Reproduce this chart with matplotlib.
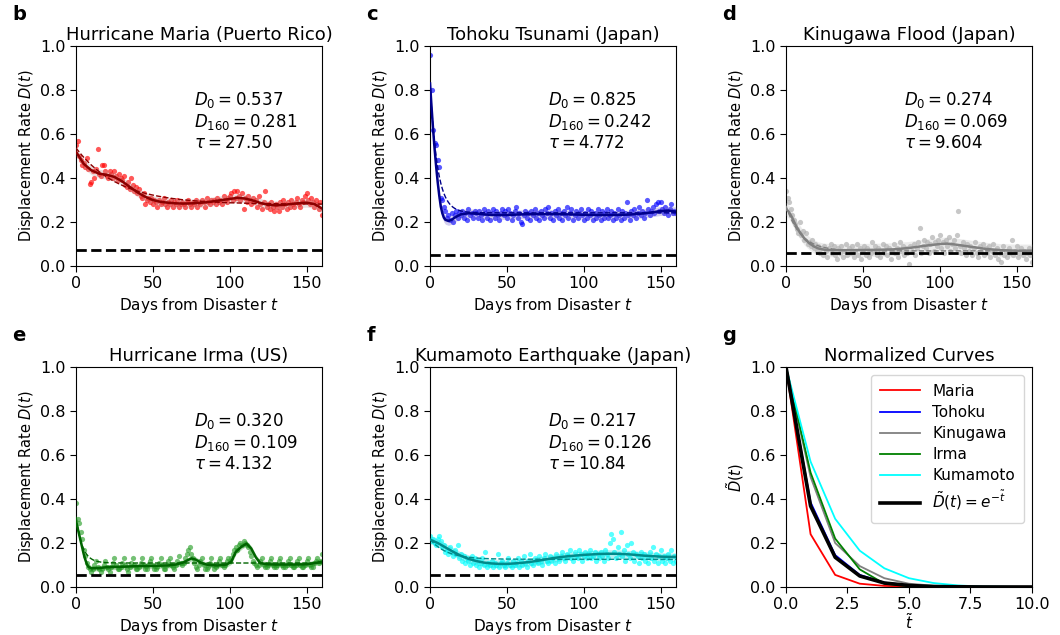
import matplotlib
matplotlib.use("Agg")
import matplotlib.pyplot as plt
import numpy as np

plt.rcParams['font.family'] = ['DejaVu Sans']
plt.rcParams['mathtext.fontset'] = 'dejavusans'

# ---- data ----
days = np.arange(161)

maria_pts = [0.55, 0.57, 0.50, 0.48, 0.46, 0.47, 0.45, 0.49, 0.44, 0.375,
             0.38, 0.43, 0.40, 0.44, 0.53, 0.42, 0.41, 0.46, 0.46, 0.43,
             0.41, 0.40, 0.43, 0.42, 0.40, 0.43, 0.41, 0.39, 0.42, 0.40,
             0.39, 0.41, 0.37, 0.36, 0.38, 0.35, 0.40, 0.37, 0.34, 0.36,
             0.33, 0.35, 0.32, 0.31, 0.33, 0.28, 0.30, 0.31, 0.29, 0.31,
             0.28, 0.30, 0.29, 0.27, 0.30, 0.28, 0.29, 0.31, 0.28, 0.27,
             0.29, 0.28, 0.30, 0.27, 0.29, 0.28, 0.30, 0.27, 0.28, 0.29,
             0.28, 0.27, 0.29, 0.30, 0.28, 0.27, 0.29, 0.28, 0.30, 0.27,
             0.29, 0.28, 0.30, 0.29, 0.27, 0.31, 0.29, 0.28, 0.30, 0.29,
             0.30, 0.28, 0.31, 0.29, 0.30, 0.28, 0.32, 0.30, 0.29, 0.31,
             0.32, 0.33, 0.30, 0.34, 0.31, 0.34, 0.32, 0.30, 0.33, 0.26,
             0.31, 0.29, 0.32, 0.30, 0.28, 0.31, 0.29, 0.30, 0.27, 0.32,
             0.28, 0.26, 0.29, 0.34, 0.27, 0.28, 0.26, 0.29, 0.27, 0.25,
             0.28, 0.27, 0.25, 0.29, 0.27, 0.30, 0.28, 0.26, 0.29, 0.27,
             0.30, 0.28, 0.27, 0.29, 0.31, 0.28, 0.27, 0.30, 0.29, 0.32,
             0.33, 0.30, 0.28, 0.31, 0.29, 0.27, 0.30, 0.28, 0.26, 0.29,
             0.23]

tohoku_pts = [0.96, 0.80, 0.62, 0.56, 0.55, 0.48, 0.45, 0.31, 0.30, 0.27,
              0.25, 0.22, 0.23, 0.21, 0.24, 0.20, 0.23, 0.25, 0.22, 0.24,
              0.23, 0.25, 0.22, 0.24, 0.21, 0.26, 0.23, 0.24, 0.22, 0.25,
              0.24, 0.22, 0.25, 0.23, 0.21, 0.26, 0.24, 0.22, 0.25, 0.21,
              0.24, 0.26, 0.22, 0.25, 0.23, 0.21, 0.24, 0.26, 0.23, 0.25,
              0.22, 0.26, 0.24, 0.21, 0.23, 0.25, 0.27, 0.22, 0.24, 0.20,
              0.19, 0.23, 0.25, 0.22, 0.24, 0.21, 0.25, 0.23, 0.26, 0.22,
              0.24, 0.21, 0.25, 0.23, 0.22, 0.26, 0.24, 0.27, 0.22, 0.24,
              0.21, 0.25, 0.23, 0.26, 0.22, 0.24, 0.21, 0.25, 0.23, 0.27,
              0.22, 0.24, 0.26, 0.21, 0.23, 0.25, 0.22, 0.24, 0.26, 0.23,
              0.21, 0.24, 0.22, 0.26, 0.23, 0.25, 0.21, 0.24, 0.22, 0.26,
              0.23, 0.21, 0.25, 0.22, 0.24, 0.26, 0.22, 0.23, 0.25, 0.21,
              0.24, 0.22, 0.26, 0.23, 0.21, 0.25, 0.22, 0.24, 0.29, 0.23,
              0.21, 0.25, 0.23, 0.26, 0.22, 0.24, 0.27, 0.23, 0.25, 0.22,
              0.24, 0.30, 0.26, 0.23, 0.25, 0.27, 0.24, 0.28, 0.29, 0.25,
              0.29, 0.26, 0.24, 0.27, 0.25, 0.23, 0.26, 0.28, 0.24, 0.25,
              0.24]

kinugawa_pts = [0.34, 0.31, 0.29, 0.26, 0.23, 0.21, 0.19, 0.17, 0.15, 0.20,
                0.14, 0.16, 0.12, 0.15, 0.10, 0.11, 0.09, 0.12, 0.08, 0.10,
                0.07, 0.09, 0.06, 0.08, 0.05, 0.09, 0.07, 0.04, 0.08, 0.10,
                0.06, 0.09, 0.05, 0.03, 0.08, 0.06, 0.09, 0.04, 0.07, 0.10,
                0.05, 0.08, 0.06, 0.09, 0.04, 0.07, 0.10, 0.05, 0.08, 0.03,
                0.07, 0.09, 0.05, 0.08, 0.04, 0.06, 0.11, 0.07, 0.09, 0.05,
                0.08, 0.04, 0.07, 0.10, 0.06, 0.09, 0.05, 0.08, 0.03, 0.07,
                0.10, 0.06, 0.08, 0.04, 0.11, 0.07, 0.09, 0.05, 0.08, 0.06,
                0.01, 0.09, 0.07, 0.10, 0.05, 0.08, 0.11, 0.175, 0.06, 0.09,
                0.12, 0.08, 0.11, 0.06, 0.10, 0.13, 0.07, 0.11, 0.09, 0.12,
                0.14, 0.08, 0.11, 0.06, 0.12, 0.09, 0.13, 0.07, 0.10, 0.12,
                0.08, 0.14, 0.25, 0.09, 0.06, 0.11, 0.08, 0.05, 0.10, 0.07,
                0.09, 0.05, 0.08, 0.11, 0.06, 0.04, 0.09, 0.07, 0.10, 0.05,
                0.08, 0.06, 0.09, 0.04, 0.07, 0.10, 0.05, 0.08, 0.03, 0.06,
                0.02, 0.09, 0.05, 0.07, 0.04, 0.08, 0.06, 0.12, 0.05, 0.07,
                0.09, 0.04, 0.06, 0.08, 0.05, 0.07, 0.03, 0.06, 0.08, 0.05,
                0.02]

irma_pts = [0.38, 0.31, 0.29, 0.25, 0.22, 0.17, 0.14, 0.11, 0.09, 0.08,
            0.07, 0.08, 0.10, 0.12, 0.09, 0.08, 0.07, 0.08, 0.10, 0.12,
            0.09, 0.08, 0.07, 0.09, 0.11, 0.13, 0.10, 0.08, 0.08, 0.09,
            0.11, 0.13, 0.10, 0.08, 0.07, 0.09, 0.11, 0.13, 0.10, 0.08,
            0.08, 0.09, 0.11, 0.13, 0.10, 0.08, 0.08, 0.10, 0.12, 0.13,
            0.10, 0.08, 0.08, 0.09, 0.11, 0.13, 0.10, 0.08, 0.08, 0.10,
            0.12, 0.13, 0.10, 0.09, 0.08, 0.10, 0.12, 0.14, 0.11, 0.10,
            0.11, 0.13, 0.15, 0.17, 0.18, 0.15, 0.13, 0.11, 0.09, 0.08,
            0.10, 0.12, 0.13, 0.10, 0.08, 0.08, 0.09, 0.11, 0.13, 0.10,
            0.08, 0.09, 0.10, 0.12, 0.13, 0.10, 0.09, 0.10, 0.12, 0.13,
            0.12, 0.13, 0.15, 0.17, 0.18, 0.17, 0.19, 0.20, 0.19, 0.21,
            0.20, 0.19, 0.18, 0.16, 0.14, 0.12, 0.11, 0.10, 0.09, 0.10,
            0.12, 0.13, 0.10, 0.09, 0.09, 0.10, 0.12, 0.13, 0.10, 0.09,
            0.09, 0.10, 0.12, 0.13, 0.10, 0.09, 0.09, 0.10, 0.12, 0.13,
            0.10, 0.09, 0.09, 0.10, 0.12, 0.13, 0.10, 0.09, 0.09, 0.10,
            0.12, 0.13, 0.10, 0.09, 0.09, 0.11, 0.12, 0.13, 0.11, 0.12,
            0.15]

kumamoto_pts = [0.23, 0.21, 0.22, 0.20, 0.19, 0.22, 0.23, 0.21, 0.18, 0.19,
                0.16, 0.17, 0.15, 0.18, 0.16, 0.14, 0.17, 0.15, 0.19, 0.13,
                0.15, 0.12, 0.14, 0.11, 0.13, 0.12, 0.10, 0.14, 0.11, 0.13,
                0.10, 0.12, 0.09, 0.11, 0.13, 0.10, 0.16, 0.09, 0.11, 0.10,
                0.12, 0.09, 0.11, 0.10, 0.15, 0.09, 0.11, 0.12, 0.10, 0.09,
                0.11, 0.13, 0.10, 0.09, 0.12, 0.10, 0.11, 0.13, 0.09, 0.12,
                0.10, 0.14, 0.11, 0.09, 0.12, 0.15, 0.11, 0.10, 0.13, 0.12,
                0.11, 0.14, 0.12, 0.10, 0.13, 0.15, 0.12, 0.11, 0.14, 0.12,
                0.13, 0.11, 0.15, 0.13, 0.12, 0.14, 0.16, 0.13, 0.12, 0.15,
                0.14, 0.17, 0.13, 0.12, 0.16, 0.14, 0.13, 0.17, 0.15, 0.12,
                0.14, 0.16, 0.13, 0.15, 0.17, 0.13, 0.14, 0.16, 0.12, 0.15,
                0.13, 0.16, 0.14, 0.12, 0.17, 0.15, 0.13, 0.20, 0.24, 0.22,
                0.16, 0.13, 0.18, 0.15, 0.25, 0.14, 0.17, 0.12, 0.19, 0.15,
                0.13, 0.20, 0.16, 0.12, 0.15, 0.14, 0.11, 0.16, 0.13, 0.15,
                0.12, 0.14, 0.11, 0.16, 0.13, 0.18, 0.12, 0.15, 0.11, 0.14,
                0.17, 0.12, 0.14, 0.11, 0.13, 0.15, 0.12, 0.17, 0.11, 0.14,
                0.12]

# smoothed curves (knots)
maria_sx = [0, 5, 10, 15, 20, 25, 30, 35, 40, 45, 50, 55, 60, 65, 70, 75, 80, 85, 90,
            95, 100, 105, 110, 115, 120, 125, 130, 135, 140, 145, 150, 155, 160]
maria_sy = [0.52, 0.465, 0.435, 0.42, 0.415, 0.405, 0.385, 0.36, 0.335, 0.315, 0.30,
            0.292, 0.288, 0.285, 0.284, 0.285, 0.287, 0.29, 0.295, 0.30, 0.305, 0.31,
            0.307, 0.298, 0.287, 0.278, 0.276, 0.278, 0.282, 0.286, 0.288, 0.282, 0.262]

tohoku_sx = [0, 1, 2, 3, 4, 5, 6, 7, 8, 9, 10, 12, 14, 16, 18, 20, 25, 30, 40, 50, 60,
             70, 80, 90, 100, 110, 120, 130, 140, 150, 155, 160]
tohoku_sy = [0.83, 0.72, 0.62, 0.53, 0.45, 0.38, 0.32, 0.27, 0.24, 0.22, 0.21, 0.205,
             0.21, 0.22, 0.228, 0.235, 0.24, 0.238, 0.232, 0.232, 0.235, 0.236, 0.236,
             0.235, 0.233, 0.232, 0.232, 0.234, 0.24, 0.25, 0.252, 0.248]

kinugawa_sx = [0, 2, 4, 6, 8, 10, 12, 15, 18, 21, 25, 30, 40, 50, 60, 70, 80, 90, 100,
               105, 110, 120, 130, 140, 150, 160]
kinugawa_sy = [0.26, 0.245, 0.22, 0.19, 0.165, 0.145, 0.125, 0.105, 0.09, 0.08, 0.074,
               0.072, 0.072, 0.073, 0.074, 0.076, 0.082, 0.092, 0.10, 0.102, 0.098,
               0.088, 0.078, 0.072, 0.07, 0.07]

irma_sx = [0, 1, 2, 3, 4, 5, 6, 7, 8, 10, 15, 20, 30, 40, 50, 60, 65, 70, 75, 78, 82,
           86, 92, 98, 101, 104, 108, 111, 114, 117, 120, 125, 130, 140, 150, 155, 160]
irma_sy = [0.30, 0.27, 0.24, 0.21, 0.18, 0.15, 0.125, 0.105, 0.092, 0.085, 0.086, 0.09,
           0.092, 0.095, 0.096, 0.098, 0.102, 0.112, 0.13, 0.124, 0.108, 0.10, 0.098,
           0.102, 0.115, 0.16, 0.185, 0.197, 0.175, 0.135, 0.108, 0.103, 0.102, 0.102,
           0.103, 0.108, 0.115]

kumamoto_sx = [0, 5, 10, 15, 20, 25, 30, 35, 40, 45, 50, 55, 60, 65, 70, 75, 80, 85,
               90, 95, 100, 105, 110, 115, 120, 125, 130, 135, 140, 145, 150, 155, 160]
kumamoto_sy = [0.215, 0.2, 0.18, 0.16, 0.142, 0.128, 0.118, 0.111, 0.107, 0.105, 0.105,
               0.107, 0.11, 0.114, 0.119, 0.125, 0.131, 0.136, 0.14, 0.143, 0.146, 0.148,
               0.15, 0.151, 0.151, 0.15, 0.148, 0.145, 0.142, 0.14, 0.138, 0.137, 0.137]

# fitted parameters shown in each panel
D0s = [0.537, 0.825, 0.274, 0.320, 0.217]
D160s = [0.281, 0.242, 0.069, 0.109, 0.126]
taus = [27.50, 4.772, 9.604, 4.132, 10.84]
tau_txt = ['27.50', '4.772', '9.604', '4.132', '10.84']
baselines = [0.075, 0.05, 0.06, 0.055, 0.055]

titles = ['Hurricane Maria (Puerto Rico)', 'Tohoku Tsunami (Japan)',
          'Kinugawa Flood (Japan)', 'Hurricane Irma (US)',
          'Kumamoto Earthquake (Japan)']
letters = ['b', 'c', 'd', 'e', 'f', 'g']

# normalized curves (panel g)
tn = [0, 1, 2, 3, 4, 5, 6, 7, 8, 9, 10]
norm_maria = [1, 0.24, 0.055, 0.015, 0.005, 0.002, 0, 0, 0, 0, 0]
norm_tohoku = [1, 0.385, 0.145, 0.055, 0.02, 0.008, 0.003, 0.001, 0, 0, 0]
norm_kinugawa = [1, 0.50, 0.20, 0.095, 0.04, 0.015, 0.006, 0.002, 0.001, 0, 0]
norm_irma = [1, 0.52, 0.22, 0.08, 0.015, 0.004, 0.001, 0, 0, 0, 0]
norm_kumamoto = [1, 0.57, 0.31, 0.165, 0.085, 0.04, 0.018, 0.007, 0.002, 0.001, 0]
norm_exp = [1, 0.368, 0.135, 0.050, 0.018, 0.007, 0.002, 0.001, 0.0003, 0.0001, 0.0]

pts = [maria_pts, tohoku_pts, kinugawa_pts, irma_pts, kumamoto_pts]
sx = [maria_sx, tohoku_sx, kinugawa_sx, irma_sx, kumamoto_sx]
sy = [maria_sy, tohoku_sy, kinugawa_sy, irma_sy, kumamoto_sy]
band = [0.02, 0.02, 0.03, 0.012, 0.018]
pt_colors = ['red', 'blue', 'darkgray', '#2ca02c', 'cyan']
line_colors = ['darkred', 'darkblue', 'gray', 'darkgreen', 'darkcyan']
band_colors = ['rosybrown', 'slateblue', 'silver', 'green', 'darkturquoise']

fig = plt.figure(figsize=(10.6, 6.35), dpi=100)
lefts = [0.0717, 0.4057, 0.7415]
bottoms = [0.581, 0.0756]
W, H = 0.232, 0.3465

axes = []
for r in range(2):
    for c in range(3):
        axes.append(fig.add_axes([lefts[c], bottoms[r], W, H]))

for i in range(5):
    ax = axes[i]
    ax.scatter(days, pts[i], s=14, color=pt_colors[i], alpha=0.65, lw=0, zorder=2)
    ys = np.array(sy[i])
    ax.fill_between(sx[i], ys - band[i], ys + band[i], color=band_colors[i],
                    alpha=0.3, lw=0, zorder=3)
    ax.plot(sx[i], sy[i], color=line_colors[i], lw=1.8, zorder=4)
    fit = D160s[i] + (D0s[i] - D160s[i]) * np.exp(-days / taus[i])
    ax.plot(days, fit, color=line_colors[i], lw=1.0, ls='--', zorder=4)
    ax.axhline(baselines[i], color='black', lw=2, ls='--', zorder=5)
    ax.set_xlim(0, 160)
    ax.set_ylim(0, 1)
    ax.set_xticks([0, 50, 100, 150])
    ax.set_yticks([0, 0.2, 0.4, 0.6, 0.8, 1.0])
    ax.set_title(titles[i], fontsize=13, pad=4)
    ax.set_xlabel('Days from Disaster $t$', fontsize=11, labelpad=3)
    ax.set_ylabel('Displacement Rate $D(t)$', fontsize=10.5, labelpad=3)
    txt = ('$D_0 = %.3f$\n$D_{160} = %.3f$\n$\\tau = %s$'
           % (D0s[i], D160s[i], tau_txt[i]))
    ax.text(0.48, 0.80, txt, transform=ax.transAxes, fontsize=12,
            va='top', ha='left', linespacing=1.15)

ax = axes[5]
norms = [norm_maria, norm_tohoku, norm_kinugawa, norm_irma, norm_kumamoto]
names = ['Maria', 'Tohoku', 'Kinugawa', 'Irma', 'Kumamoto']
g_colors = ['red', 'blue', 'gray', 'green', 'cyan']
for n, lab, col in zip(norms, names, g_colors):
    ax.plot(tn, n, color=col, lw=1.3, label=lab)
ax.plot(tn, norm_exp, color='black', lw=2.6, label=r'$\tilde{D}(t) = e^{-\tilde{t}}$')
ax.set_xlim(0, 10)
ax.set_ylim(0, 1)
ax.set_xticks([0, 2.5, 5, 7.5, 10])
ax.set_xticklabels(['0.0', '2.5', '5.0', '7.5', '10.0'])
ax.set_yticks([0, 0.2, 0.4, 0.6, 0.8, 1.0])
ax.set_title('Normalized Curves', fontsize=13, pad=4)
ax.set_xlabel(r'$\tilde{t}$', fontsize=11, labelpad=0)
ax.set_ylabel(r'$\tilde{D}(t)$', fontsize=10.5, labelpad=3)
ax.legend(loc='upper right', fontsize=11, handlelength=2.6, borderpad=0.6,
          labelspacing=0.4)

for ax, lt in zip(axes, letters):
    ax.tick_params(labelsize=11.5, length=4)
    bb = ax.get_position()
    fig.text(bb.x0 - 0.06, bb.y1 + 0.035, lt, fontsize=14, fontweight='bold',
             ha='left', va='bottom')

fig.savefig('out.png', dpi=100)
